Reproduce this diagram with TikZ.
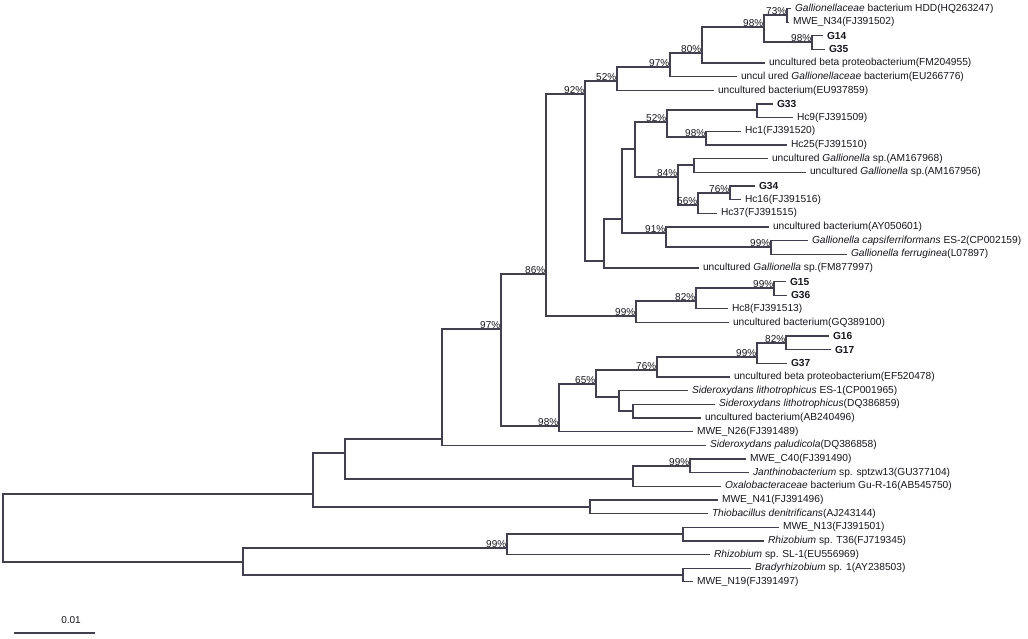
\documentclass[tikz,border=0pt]{standalone}
\usepackage{fontspec}
\setmainfont{Liberation Sans}

\definecolor{treeline}{RGB}{66,64,78}
\definecolor{labeltext}{RGB}{22,22,28}

\tikzset{
  branch/.style={draw=treeline, line width=1.3pt, to path={|- (\tikztotarget)}},
  leaf/.style={anchor=west, inner xsep=4pt, inner ysep=0pt, outer sep=0pt,
    text=labeltext, font=\fontsize{10.2}{12}\selectfont},
  boot/.style={anchor=south east, inner sep=0.6pt, text=labeltext,
    font=\fontsize{10}{12}\selectfont},
}

\begin{document}
\begin{tikzpicture}[x=1pt, y=-1pt]
\useasboundingbox (0,0) rectangle (1028,638);

% internal nodes
\coordinate (root) at (3,528);
\coordinate (a)   at (313,494);
\coordinate (b)   at (345,453);
\coordinate (c)   at (442,439);
\coordinate (d)   at (501,329);
\coordinate (e)   at (546,274);
\coordinate (f)   at (585,94);
\coordinate (g)   at (617,81);
\coordinate (g1)  at (670,67);
\coordinate (g2)  at (702,53);
\coordinate (g3)  at (764,27);
\coordinate (g4)  at (787,15);
\coordinate (g5)  at (812,42);
\coordinate (h)   at (604,261);
\coordinate (h1)  at (622,219);
\coordinate (h2)  at (635,149);
\coordinate (h3)  at (667,122);
\coordinate (h3a) at (757,110);
\coordinate (h3b) at (706,137);
\coordinate (h4)  at (678,177);
\coordinate (h4a) at (694,165);
\coordinate (h5)  at (698,205);
\coordinate (h5a) at (730,193);
\coordinate (h6)  at (666,233);
\coordinate (h6a) at (771,247);
\coordinate (q)   at (636,316);
\coordinate (q1)  at (696,301);
\coordinate (q2)  at (774,288);
\coordinate (s)   at (559,426);
\coordinate (t)   at (596,384);
\coordinate (u)   at (657,370);
\coordinate (w)   at (757,357);
\coordinate (w1)  at (786,343);
\coordinate (v)   at (619,397);
\coordinate (v1)  at (633,411);
\coordinate (ox)  at (633,479);
\coordinate (ox1) at (690,466);
\coordinate (n41) at (590,507);
\coordinate (rz)  at (243,562);
\coordinate (rh)  at (507,548);
\coordinate (rh1) at (683,534);
\coordinate (br)  at (683,575);

% leaves
\foreach \k/\x/\txt in {
  1/791/{\textit{Gallionellaceae} bacterium HDD(HQ263247)},
  2/789/{MWE\_N34(FJ391502)},
  3/823/{\textbf{G14}},
  4/825/{\textbf{G35}},
  5/765/{uncultured beta proteobacterium(FM204955)},
  6/737/{uncul ured \textit{Gallionellaceae} bacterium(EU266776)},
  7/714/{uncultured bacterium(EU937859)},
  8/773/{\textbf{G33}},
  9/793/{Hc9(FJ391509)},
  10/741/{Hc1(FJ391520)},
  11/787/{Hc25(FJ391510)},
  12/768/{uncultured \textit{Gallionella} sp.(AM167968)},
  13/806/{uncultured \textit{Gallionella} sp.(AM167956)},
  14/755/{\textbf{G34}},
  15/741/{Hc16(FJ391516)},
  16/717/{Hc37(FJ391515)},
  17/769/{uncultured bacterium(AY050601)},
  18/808/{\textit{Gallionella capsiferriformans} ES-2(CP002159)},
  19/847/{\textit{Gallionella ferruginea}(L07897)},
  20/699/{uncultured \textit{Gallionella} sp.(FM877997)},
  21/786/{\textbf{G15}},
  22/787/{\textbf{G36}},
  23/728/{Hc8(FJ391513)},
  24/729/{uncultured bacterium(GQ389100)},
  25/829/{\textbf{G16}},
  26/831/{\textbf{G17}},
  27/787/{\textbf{G37}},
  28/730/{uncultured beta proteobacterium(EF520478)},
  29/688/{\textit{Sideroxydans lithotrophicus} ES-1(CP001965)},
  30/715/{\textit{Sideroxydans lithotrophicus}(DQ386859)},
  31/701/{uncultured bacterium(AB240496)},
  32/693/{MWE\_N26(FJ391489)},
  33/706/{\textit{Sideroxydans paludicola}(DQ386858)},
  34/746/{MWE\_C40(FJ391490)},
  35/749/{\textit{Janthinobacterium} sp. sptzw13(GU377104)},
  36/721/{\textit{Oxalobacteraceae} bacterium Gu-R-16(AB545750)},
  37/718/{MWE\_N41(FJ391496)},
  38/708/{\textit{Thiobacillus denitrificans}(AJ243144)},
  39/779/{MWE\_N13(FJ391501)},
  40/764/{\textit{Rhizobium} sp. T36(FJ719345)},
  41/710/{\textit{Rhizobium} sp. SL-1(EU556969)},
  42/751/{\textit{Bradyrhizobium} sp. 1(AY238503)},
  43/693/{MWE\_N19(FJ391497)}}
  \node[leaf] (l\k) at (\x,{8.5+13.65*(\k-1)}) {\txt};

% branches
\path[branch]
  (root) edge (a)   edge (rz)
  (a)    edge (b)   edge (n41)
  (b)    edge (c)   edge (ox)
  (c)    edge (d)   edge (l33.west)
  (d)    edge (e)   edge (s)
  (e)    edge (f)   edge (q)
  (f)    edge (g)   edge (h)
  (g)    edge (g1)  edge (l7.west)
  (g1)   edge (g2)  edge (l6.west)
  (g2)   edge (g3)  edge (l5.west)
  (g3)   edge (g4)  edge (g5)
  (g4)   edge (l1.west)  edge (l2.west)
  (g5)   edge (l3.west)  edge (l4.west)
  (h)    edge (h1)  edge (l20.west)
  (h1)   edge (h2)  edge (h6)
  (h2)   edge (h3)  edge (h4)
  (h3)   edge (h3a) edge (h3b)
  (h3a)  edge (l8.west)  edge (l9.west)
  (h3b)  edge (l10.west) edge (l11.west)
  (h4)   edge (h4a) edge (h5)
  (h4a)  edge (l12.west) edge (l13.west)
  (h5)   edge (h5a) edge (l16.west)
  (h5a)  edge (l14.west) edge (l15.west)
  (h6)   edge (l17.west) edge (h6a)
  (h6a)  edge (l18.west) edge (l19.west)
  (q)    edge (q1)  edge (l24.west)
  (q1)   edge (q2)  edge (l23.west)
  (q2)   edge (l21.west) edge (l22.west)
  (s)    edge (t)   edge (l32.west)
  (t)    edge (u)   edge (v)
  (u)    edge (w)   edge (l28.west)
  (w)    edge (w1)  edge (l27.west)
  (w1)   edge (l25.west) edge (l26.west)
  (v)    edge (l29.west) edge (v1)
  (v1)   edge (l30.west) edge (l31.west)
  (ox)   edge (ox1) edge (l36.west)
  (ox1)  edge (l34.west) edge (l35.west)
  (n41)  edge (l37.west) edge (l38.west)
  (rz)   edge (rh)  edge (br)
  (rh)   edge (rh1) edge (l41.west)
  (rh1)  edge (l39.west) edge (l40.west)
  (br)   edge (l42.west) edge (l43.west);

% bootstrap values
\foreach \n/\v in {d/97, e/86, f/92, g/52, g1/97, g2/80, g3/98, g4/73, g5/98,
  h3/52, h3b/98, h4/84, h5/56, h5a/76, h6/91, h6a/99, q/99, q1/82, q2/99,
  s/98, t/65, u/76, w/99, w1/82, ox1/99, rh/99}
  \node[boot] (bs\n) at (\n) {\v\%};

% scale bar
\coordinate (sb0) at (14,633);
\coordinate (sb1) at (95,633);
\draw[treeline, line width=1.3pt] (sb0) -- (sb1);
\node[boot, anchor=center] (sbtext) at (71,620) {0.01};
\end{tikzpicture}
\end{document}
